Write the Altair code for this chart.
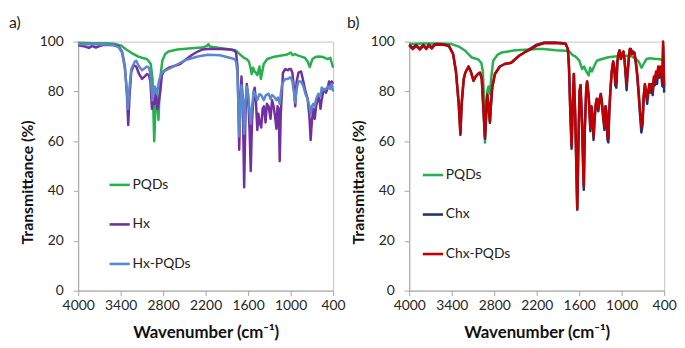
import altair as alt
import pandas as pd

# ---------------- data (wavenumber cm-1, transmittance %) ----------------
x_ticks = [4000, 3400, 2800, 2200, 1600, 1000, 400]
y_ticks = [0, 20, 40, 60, 80, 100]

names_a = ["PQDs", "Hx", "Hx-PQDs"]
colors_a = ["#27b04f", "#7030a0", "#5b87cc"]
names_b = ["PQDs", "Chx", "Chx-PQDs"]
colors_b = ["#27b04f", "#1f3370", "#c00000"]

pqds_a = [(4000, 99.5), (3800, 99.3), (3600, 99.3), (3470, 99), (3400, 98.5), (3330, 97),
          (3250, 95.5), (3150, 94), (3100, 93.5), (3030, 93), (3000, 92), (2975, 91),
          (2950, 85), (2926, 60), (2910, 72), (2898, 79), (2880, 75), (2866, 68.5),
          (2850, 80), (2830, 88), (2810, 92.5), (2770, 95), (2726, 96), (2600, 96.8),
          (2400, 97.3), (2250, 97.6), (2180, 98.3), (2160, 99), (2140, 98), (2100, 97.8),
          (1900, 97), (1780, 96.5), (1750, 95.8), (1700, 94.5), (1660, 93.5), (1620, 93),
          (1590, 92), (1570, 90), (1550, 87), (1530, 89.5), (1510, 88), (1490, 87.5),
          (1470, 86.5), (1440, 90), (1420, 85), (1400, 88), (1380, 91), (1330, 93),
          (1250, 93.8), (1150, 94.3), (1050, 94.8), (1000, 95.6), (970, 94.5), (940, 95),
          (900, 94.5), (850, 94), (800, 93.5), (760, 92), (730, 89.8), (710, 91.5),
          (690, 93), (650, 93.8), (600, 94), (540, 93.8), (480, 93), (440, 93.5),
          (420, 91.5), (400, 89.5)]

hx = [(4000, 98.5), (3900, 98), (3850, 97.5), (3800, 98.3), (3750, 97.6), (3700, 98.2),
      (3650, 98.6), (3600, 98.7), (3500, 98.6), (3430, 98.2), (3380, 96), (3340, 90),
      (3310, 78), (3293, 66.5), (3275, 78), (3250, 88), (3214, 90.5), (3180, 90),
      (3140, 87), (3098, 85), (3060, 86), (3028, 87), (3000, 86.5), (2980, 84),
      (2958, 73), (2940, 77), (2922, 75), (2905, 80), (2880, 73), (2860, 76),
      (2840, 80), (2818, 86.5), (2780, 88.5), (2720, 89.5), (2633, 90.3), (2560, 91),
      (2493, 92.5), (2400, 94.5), (2312, 96), (2250, 96.8), (2170, 97), (2000, 97),
      (1850, 96.8), (1796, 96.4), (1770, 95.5), (1750, 90), (1738, 75), (1726, 56.6),
      (1712, 75), (1694, 86), (1675, 75), (1656, 41.5), (1638, 70), (1619, 83),
      (1600, 78), (1580, 65), (1563, 48), (1545, 68), (1520, 80), (1507, 81.5),
      (1490, 76), (1470, 64.5), (1455, 71), (1440, 68), (1415, 65.5), (1395, 73),
      (1377, 74), (1354, 67.5), (1335, 75), (1310, 74), (1284, 69), (1262, 76.5),
      (1240, 74), (1220, 70), (1200, 65), (1185, 74), (1168, 73), (1154, 52),
      (1140, 70), (1130, 76), (1108, 87.5), (1075, 89), (1040, 88.5), (1020, 89),
      (997, 89), (975, 87.5), (955, 82), (935, 74), (915, 84), (889, 87.5),
      (852, 88), (820, 84), (790, 80), (760, 77), (735, 70), (717, 60.5),
      (700, 68), (680, 73), (660, 69), (640, 74), (610, 78), (590, 76),
      (578, 73), (560, 77), (530, 81), (500, 79.5), (480, 81), (457, 84),
      (440, 82), (420, 84), (400, 83)]

hx_pqds = [(4000, 99), (3900, 98.8), (3800, 99), (3700, 98.8), (3600, 98.9), (3500, 98.5),
           (3430, 97.8), (3380, 95.5), (3340, 89), (3310, 80), (3298, 73), (3280, 80),
           (3250, 89), (3200, 92), (3180, 92.3), (3140, 90), (3098, 88.5), (3060, 89.3),
           (3028, 90), (3000, 89.5), (2980, 87), (2950, 76.4), (2935, 79), (2918, 82),
           (2900, 80), (2888, 79), (2860, 84), (2830, 87), (2796, 88), (2700, 89.3),
           (2633, 90.3), (2493, 92.5), (2312, 94), (2170, 94.7), (2000, 94.5), (1900, 93.8),
           (1796, 93), (1770, 92), (1750, 87), (1738, 75), (1726, 62), (1712, 72),
           (1694, 82.5), (1675, 78), (1656, 63), (1638, 76), (1619, 82), (1600, 79),
           (1580, 72), (1563, 67), (1545, 74), (1520, 80), (1490, 78), (1470, 76.5),
           (1440, 79), (1415, 78.5), (1377, 76.5), (1350, 78.5), (1310, 79), (1284, 77),
           (1262, 78.5), (1237, 78), (1200, 76.5), (1180, 77.5), (1154, 75), (1135, 80),
           (1120, 83), (1075, 85), (1040, 85), (1020, 85.5), (997, 85.6), (975, 84),
           (955, 80), (935, 75.5), (915, 81), (889, 84), (852, 84), (820, 82),
           (790, 79), (760, 77), (735, 74), (717, 71), (700, 74), (680, 75),
           (660, 74), (640, 77), (610, 79), (580, 78), (560, 81.6), (530, 80.5),
           (500, 81), (470, 82), (440, 81), (420, 83), (400, 80)]

pqds_b = [(4000, 99), (3800, 99.2), (3600, 99.2), (3400, 99), (3300, 98), (3208, 96.3),
          (3115, 93.6), (3023, 92.8), (2980, 91.3), (2960, 88), (2945, 78), (2930, 59.5),
          (2915, 72), (2898, 80), (2880, 82), (2860, 79), (2840, 86), (2814, 92.3),
          (2750, 94.8), (2698, 95.6), (2500, 96.5), (2300, 96.8), (2193, 97), (2100, 97),
          (1929, 96.5), (1800, 96.3), (1744, 96.2), (1697, 94.7), (1650, 94), (1600, 92.5),
          (1558, 89), (1530, 90), (1500, 88), (1466, 86.4), (1445, 89.5), (1420, 88),
          (1390, 90), (1350, 92.3), (1300, 92.8), (1188, 93.7), (1100, 94), (1002, 94.4),
          (950, 94.3), (880, 94.4), (800, 93), (760, 92), (720, 89.5), (690, 91),
          (650, 93), (600, 93.3), (520, 93), (469, 93), (420, 92.5), (400, 92)]

chx_pqds = [(4000, 98.5), (3950, 97), (3900, 98.3), (3850, 96.8), (3800, 98.4), (3760, 97),
            (3720, 98.5), (3680, 97.2), (3640, 98.6), (3600, 98.8), (3500, 98.6), (3440, 98.2),
            (3380, 95), (3340, 88), (3300, 75), (3277, 63.2), (3260, 75), (3230, 85),
            (3208, 87.5), (3162, 90), (3130, 88), (3092, 84.4), (3060, 86), (3030, 87),
            (3000, 87.6), (2975, 85), (2950, 72), (2930, 61.9), (2915, 70), (2898, 78.8),
            (2880, 75), (2860, 67.9), (2845, 75), (2828, 81.6), (2790, 87), (2720, 90),
            (2652, 91), (2560, 91.5), (2443, 94.4), (2350, 96), (2281, 97), (2200, 98.4),
            (2100, 99.3), (1950, 99.4), (1850, 99.2), (1790, 99), (1760, 97), (1744, 90),
            (1725, 72), (1707, 58), (1690, 75), (1675, 87), (1655, 70), (1640, 50),
            (1627, 33), (1610, 60), (1595, 80), (1581, 82.5), (1560, 68), (1548, 55),
            (1535, 42), (1520, 65), (1500, 81), (1488, 84), (1465, 78), (1442, 65.5),
            (1425, 74), (1410, 70), (1397, 62), (1380, 70), (1365, 75), (1350, 77),
            (1330, 73), (1310, 77), (1295, 79), (1280, 76), (1260, 70), (1243, 66),
            (1228, 74), (1215, 72), (1200, 62), (1188, 61), (1175, 72), (1160, 80),
            (1140, 88), (1120, 92), (1105, 90), (1090, 84), (1075, 83), (1060, 92),
            (1045, 95), (1030, 96.5), (1010, 93), (995, 95), (975, 96), (960, 93),
            (945, 88), (930, 83), (915, 88), (900, 93), (885, 97), (870, 97),
            (855, 95), (840, 96), (820, 95.5), (800, 92), (780, 87), (760, 80),
            (740, 72), (722, 66), (705, 68), (690, 78), (672, 83), (655, 80),
            (640, 77), (625, 80), (610, 83), (595, 81), (580, 83), (562, 80),
            (545, 86), (530, 84), (515, 88), (500, 85), (485, 90), (470, 87),
            (455, 90), (440, 88), (425, 84), (415, 100), (408, 92), (400, 82)]

chx = [(4000, 98.8), (3950, 97.5), (3900, 98.6), (3850, 97.2), (3800, 98.7), (3760, 97.4),
       (3720, 98.8), (3680, 97.6), (3640, 98.9), (3600, 99), (3500, 98.8), (3440, 98.4),
       (3380, 95), (3340, 88), (3300, 74.5), (3277, 62.5), (3260, 74.5), (3230, 85),
       (3208, 87.5), (3162, 90), (3130, 88), (3092, 84.2), (3060, 86), (3030, 87),
       (3000, 87.5), (2975, 85), (2950, 71.5), (2930, 61), (2915, 69.5), (2898, 78.5),
       (2880, 74.5), (2860, 67.3), (2845, 75), (2828, 81.5), (2790, 87), (2720, 90),
       (2652, 91), (2560, 91.5), (2443, 94.4), (2350, 96), (2281, 97.3), (2200, 98.8),
       (2100, 99.6), (1950, 99.6), (1850, 99.4), (1790, 99.2), (1760, 97), (1744, 90),
       (1725, 71.5), (1707, 57), (1690, 75), (1675, 87), (1655, 69.5), (1640, 49.5),
       (1627, 32.5), (1610, 60), (1595, 80), (1581, 82.5), (1560, 67.5), (1548, 54),
       (1535, 40.5), (1520, 65), (1500, 81), (1488, 84), (1465, 77.5), (1442, 64),
       (1425, 73.5), (1410, 69), (1397, 60.5), (1380, 69.5), (1365, 75), (1350, 77),
       (1330, 72), (1310, 77), (1295, 79), (1280, 75.5), (1260, 69), (1243, 64.5),
       (1228, 74), (1215, 71), (1200, 60.5), (1188, 59.5), (1175, 71.5), (1160, 80),
       (1140, 88), (1120, 92), (1105, 89.5), (1090, 82.5), (1075, 81.5), (1060, 92),
       (1045, 95), (1030, 96.5), (1010, 93), (995, 95), (975, 96), (960, 92.5),
       (945, 86.5), (930, 80.5), (915, 87.5), (900, 93), (885, 97), (870, 97),
       (855, 95), (840, 96), (820, 95.5), (800, 91.5), (780, 86), (760, 78.5),
       (740, 70.5), (722, 63.5), (705, 66.5), (690, 77), (672, 82.5), (655, 78.5),
       (640, 75), (625, 79), (610, 82), (595, 79.5), (580, 82), (562, 78.5),
       (545, 85), (530, 82.5), (515, 87), (500, 83), (485, 89), (470, 85.5),
       (455, 89), (440, 86.5), (425, 82), (415, 98), (408, 90), (400, 79.5)]

series_a = [("PQDs", pqds_a), ("Hx", hx), ("Hx-PQDs", hx_pqds)]
series_b = [("PQDs", pqds_b), ("Chx", chx), ("Chx-PQDs", chx_pqds)]

FONT = "Lato"
W, H = 258, 252


def panel(series, names, colors, label, title_dx, lx, ly):
    layers = []
    for name, pts in series:
        df = pd.DataFrame(pts, columns=["wn", "T"])
        df["series"] = name
        layers.append(
            alt.Chart(df)
            .mark_line(strokeWidth=2.5, strokeJoin="round")
            .encode(
                x=alt.X("wn:Q",
                        scale=alt.Scale(domain=[400, 4000], reverse=True, nice=False, zero=False),
                        axis=alt.Axis(values=x_ticks, title="Wavenumber (cm⁻¹)", format="d",
                                      labelOverlap=False, labelFlush=False,
                                      titleFontSize=17, titlePadding=12)),
                y=alt.Y("T:Q",
                        scale=alt.Scale(domain=[0, 100], nice=False),
                        axis=alt.Axis(values=y_ticks, title="Transmittance (%)",
                                      labelOverlap=False, titleY=142)),
                color=alt.Color("series:N",
                                scale=alt.Scale(domain=names, range=colors),
                                legend=alt.Legend(orient="none", legendX=lx, legendY=ly,
                                                  title=None, symbolType="stroke",
                                                  symbolSize=420, symbolStrokeWidth=2.6,
                                                  labelFontSize=14, labelFont=FONT,
                                                  labelColor="#222222", rowPadding=21,
                                                  labelOffset=1, padding=0, offset=0)),
                order=alt.Order("wn:Q", sort="descending"),
            )
        )
    return alt.layer(*layers).properties(
        width=W, height=H,
        title=alt.TitleParams(label, anchor="start", frame="group", dx=title_dx,
                              fontSize=16, fontWeight="normal", font=FONT,
                              color="#222222", offset=4),
    )


pa = panel(series_a, names_a, colors_a, "a)", -70, 30, 133)
pb = panel(series_b, names_b, colors_b, "b)", -63, 12, 123)

chart = (
    alt.hconcat(pa, pb, spacing=0)
    .resolve_scale(color="independent")
    .resolve_legend(color="independent")
    .properties(padding={"left": 0, "top": 4, "right": 0, "bottom": 0})
    .configure_view(stroke="#c4c4c4", strokeWidth=1)
    .configure_axis(grid=False, domainColor="#a6a6a6", tickColor="#a6a6a6",
                    tickSize=5, labelFont=FONT, labelFontSize=14, labelColor="#262626",
                    titleFont=FONT, titleFontSize=16, titleFontWeight="bold",
                    titleColor="#111111")
    .configure_axisX(labelPadding=3)
    .configure_axisY(labelPadding=10, titlePadding=4)
)

chart.save("out.html", embed_options={"renderer": "svg", "actions": False})
